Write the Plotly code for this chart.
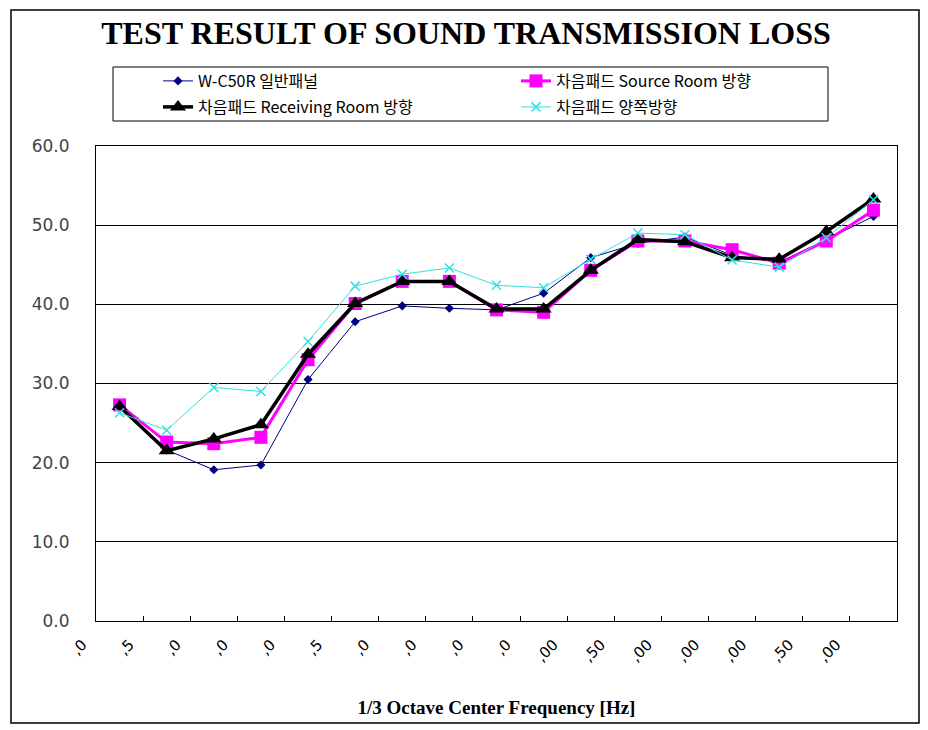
import plotly.graph_objects as go

# 1/3 octave band centre frequencies (Hz)
frequencies = ["100", "125", "160", "200", "250", "315", "400", "500", "630", "800",
               "1000", "1250", "1600", "2000", "2500", "3150", "4000"]
# tick labels as they appear (clipped) in the reference
tick_labels = [",0", ",5", ",0", ",0", ",0", ",5", ",0", ",0", ",0", ",0",
               ",00", ",50", ",00", ",00", ",00", ",50", ",00"]

wc50r_general = [27.1, 21.6, 19.1, 19.7, 30.5, 37.8, 39.8, 39.5, 39.3, 41.4,
                 45.9, 47.7, 48.5, 46.2, 45.3, 48.2, 51.1]
pad_source = [27.3, 22.6, 22.4, 23.2, 33.0, 40.1, 42.9, 42.9, 39.3, 39.0,
              44.3, 48.0, 48.0, 46.9, 45.2, 48.0, 51.9]
pad_receiving = [27.1, 21.5, 23.0, 24.8, 33.7, 40.1, 42.9, 42.9, 39.4, 39.4,
                 44.3, 48.2, 47.9, 45.9, 45.7, 49.2, 53.3]
pad_both = [26.3, 24.1, 29.5, 29.0, 35.3, 42.3, 43.8, 44.6, 42.4, 42.1,
            45.7, 49.0, 48.8, 45.6, 44.7, 48.4, 53.2]

series_names = ["W-C50R 일반패널", "차음패드 Source Room 방향",
                "차음패드 Receiving Room 방향", "차음패드 양쪽방향"]
y_ticks = [0, 10, 20, 30, 40, 50, 60]

fig = go.Figure()
fig.add_trace(go.Scatter(
    x=frequencies, y=wc50r_general, name=series_names[0], mode="lines+markers",
    line=dict(color="#000080", width=1), legend="legend",
    marker=dict(symbol="diamond", size=7, color="#000080")))
fig.add_trace(go.Scatter(
    x=frequencies, y=pad_source, name=series_names[1], mode="lines+markers",
    line=dict(color="#FF00FF", width=3), legend="legend",
    marker=dict(symbol="square", size=13, color="#FF00FF")))
fig.add_trace(go.Scatter(
    x=frequencies, y=pad_receiving, name=series_names[2], mode="lines+markers",
    line=dict(color="#000000", width=3.5), legend="legend2",
    marker=dict(symbol="triangle-up", size=14, color="#000000")))
fig.add_trace(go.Scatter(
    x=frequencies, y=pad_both, name=series_names[3], mode="lines+markers",
    line=dict(color="#33E0E0", width=1), legend="legend2",
    marker=dict(symbol="x-thin", size=9, color="#33E0E0",
                line=dict(color="#33E0E0", width=1.5))))

# the page body adds an 8px offset; work in screen pixels and convert
OFF = 8
W, H = 920, 722
L, R, T, B = 96 - OFF, 31, 146 - OFF, 109
pw, ph = W - L - R, H - T - B


def px_x(p):
    return (p - OFF - L) / pw


def px_y(p):
    return (H - B - (p - OFF)) / ph


legend_common = dict(orientation="h", xanchor="left", yanchor="middle",
                     entrywidth=313, entrywidthmode="pixels",
                     font=dict(family="Noto Sans CJK KR", size=16, color="black"),
                     bgcolor="rgba(0,0,0,0)", borderwidth=0)

fig.update_layout(
    width=W, height=H,
    margin=dict(l=L, r=R, t=T, b=B),
    paper_bgcolor="white", plot_bgcolor="white",
    title=dict(text="<b>TEST RESULT OF SOUND TRANSMISSION LOSS</b>",
               font=dict(family="Liberation Serif", size=32, color="black"),
               x=px_x(466), xref="paper", xanchor="center",
               y=1 - (33 - OFF) / H, yanchor="middle"),
    showlegend=True,
    legend=dict(x=px_x(158), y=px_y(81), **legend_common),
    legend2=dict(x=px_x(158), y=px_y(107), **legend_common),
    xaxis=dict(type="category", range=[-0.5, len(frequencies) - 0.5],
               tickmode="array", tickvals=frequencies, ticktext=tick_labels,
               tickangle=-45, tickson="boundaries", ticks="inside", ticklen=5,
               tickcolor="black", showgrid=False,
               showline=True, linecolor="black", linewidth=1, mirror=True,
               tickfont=dict(family="DejaVu Sans", size=15, color="black"),
               ticklabelshift=-37, ticklabelstandoff=8,
               title=dict(text="<b>1/3 Octave Center Frequency [Hz]</b>",
                          font=dict(family="Liberation Serif", size=19, color="black"),
                          standoff=36)),
    yaxis=dict(range=[0, 60], tickmode="array", tickvals=y_ticks, tickformat=".1f",
               showgrid=True, gridcolor="black", gridwidth=1,
               showline=True, linecolor="black", linewidth=1, mirror=True,
               zeroline=False, ticks="",
               tickfont=dict(family="DejaVu Sans", size=17, color="#444444"),
               ticklabelstandoff=22),
    shapes=[
        dict(type="rect", xref="paper", yref="paper",
             x0=px_x(11), x1=px_x(919), y0=px_y(723), y1=px_y(10),
             line=dict(color="black", width=1.5), fillcolor="rgba(0,0,0,0)", layer="below"),
        dict(type="rect", xref="paper", yref="paper",
             x0=px_x(113), x1=px_x(828), y0=px_y(121), y1=px_y(67),
             line=dict(color="black", width=1), fillcolor="rgba(0,0,0,0)", layer="below"),
    ],
)

fig.write_html("out.html")
